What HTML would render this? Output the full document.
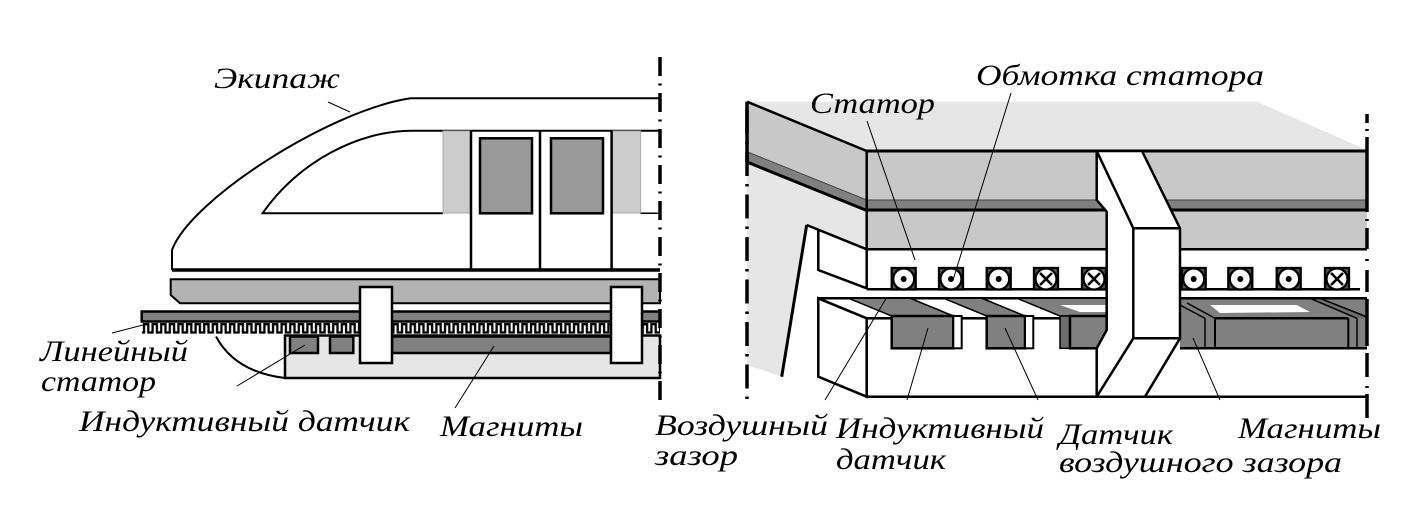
<!DOCTYPE html>
<html><head><meta charset="utf-8"><style>
html,body{margin:0;padding:0;background:#fff;}
svg{display:block;}
text{font-family:"Liberation Serif",serif;font-style:italic;font-size:30px;fill:#000;}
</style></head><body>
<svg width="1404" height="510" viewBox="0 0 1404 510" xmlns="http://www.w3.org/2000/svg">
<defs>
<pattern id="teeth" patternUnits="userSpaceOnUse" x="142" y="321" width="8.6" height="15">
<path d="M-0.2,11.5 H2 V3.2 H6.3 V11.5 H8.8" fill="none" stroke="#000" stroke-width="2.3"/>
</pattern>
</defs>
<rect width="1404" height="510" fill="#fff"/>

<!-- ================= LEFT: TRAIN ================= -->
<path d="M660,98.3 L410.7,98.3 C330,110 190,200 172,250 L172,270" fill="none" stroke="#000" stroke-width="2"/>
<line x1="172" y1="270" x2="660" y2="270" stroke="#000" stroke-width="3.5"/>
<path d="M660,130.7 L410.7,130.7 C360,131 300,160 262.5,213.3 L443,213.3" fill="none" stroke="#000" stroke-width="2"/>
<rect x="443" y="131" width="28" height="82" fill="#cccccc" stroke="#aaaaaa" stroke-width="1"/>
<rect x="612" y="131" width="28.6" height="82" fill="#cccccc" stroke="#aaaaaa" stroke-width="1"/>
<line x1="640.6" y1="213.3" x2="660" y2="213.3" stroke="#000" stroke-width="1.5"/>
<line x1="471" y1="130.7" x2="471" y2="270" stroke="#000" stroke-width="2.5"/>
<line x1="540" y1="130.7" x2="540" y2="270" stroke="#000" stroke-width="2.5"/>
<line x1="611.6" y1="130.7" x2="611.6" y2="270" stroke="#000" stroke-width="2.5"/>
<rect x="480" y="138.3" width="52" height="75" fill="#999999" stroke="#000" stroke-width="2.5"/>
<rect x="551" y="138.3" width="52" height="75" fill="#999999" stroke="#000" stroke-width="2.5"/>
<path d="M170.7,279.3 L660,279.3 L660,303.3 L180,303.3 L170.7,295 Z" fill="#b3b3b3" stroke="#000" stroke-width="2"/>
<rect x="141.7" y="311.5" width="518.3" height="10" fill="#808080" stroke="#000" stroke-width="2.5"/>
<rect x="142" y="321.5" width="518" height="14" fill="url(#teeth)"/>
<path d="M216,336.5 Q235,372 285,378" fill="none" stroke="#000" stroke-width="2"/>
<rect x="285" y="335.5" width="375" height="42.5" fill="#e6e6e6" stroke="#000" stroke-width="2.5"/>
<rect x="290" y="336.5" width="28" height="16.5" fill="#808080" stroke="#000" stroke-width="2.5"/>
<rect x="330" y="336.5" width="23.3" height="16.5" fill="#808080" stroke="#000" stroke-width="2.5"/>
<rect x="392" y="336.5" width="219" height="16.5" fill="#808080" stroke="#000" stroke-width="2.5"/>
<rect x="360" y="287" width="32" height="76" fill="#fff" stroke="#000" stroke-width="2.5"/>
<rect x="611" y="287" width="31" height="76" fill="#fff" stroke="#000" stroke-width="2.5"/>
<line x1="660" y1="57" x2="660" y2="404" stroke="#000" stroke-width="3.5" stroke-dasharray="19 7.5 2 7.5"/>

<!-- ================= RIGHT: SECTION ================= -->
<polygon points="747,101.7 1257,101.7 1367,150 1367,152 866.7,152 866.7,249.3 806.7,225 781.7,376.7 747,365" fill="#e6e6e6"/>
<polygon points="747,101.7 866.7,151 866.7,200 747,151.7" fill="#c8c8c8"/>
<line x1="747" y1="101.7" x2="866.7" y2="151" stroke="#000" stroke-width="2.5"/>
<polygon points="747,151.7 866.7,200 866.7,210 747,161.7" fill="#808080"/>
<line x1="747" y1="151.7" x2="866.7" y2="200" stroke="#444" stroke-width="1"/>
<line x1="747" y1="162" x2="866.7" y2="210.5" stroke="#000" stroke-width="3"/>
<rect x="866.7" y="151" width="500.3" height="49" fill="#c8c8c8"/>
<rect x="866.7" y="200" width="500.3" height="8.5" fill="#808080"/>
<line x1="866.7" y1="200" x2="1367" y2="200" stroke="#444" stroke-width="1"/>
<line x1="866.7" y1="210" x2="1367" y2="210" stroke="#000" stroke-width="3"/>
<rect x="866.7" y="211.5" width="500.3" height="37.8" fill="#c8c8c8"/>
<line x1="866.7" y1="249.3" x2="1367" y2="249.3" stroke="#000" stroke-width="2.5"/>
<rect x="866.7" y="250.5" width="500.3" height="38.8" fill="#fff"/>
<line x1="866.7" y1="289.3" x2="1360" y2="289.3" stroke="#000" stroke-width="2.5"/>
<line x1="866.7" y1="151" x2="1367" y2="151" stroke="#000" stroke-width="3"/>
<line x1="866.7" y1="151" x2="866.7" y2="289.3" stroke="#000" stroke-width="2.5"/>
<line x1="806.7" y1="225" x2="866.7" y2="249.3" stroke="#000" stroke-width="2.5"/>
<line x1="806.7" y1="225" x2="781.7" y2="376.7" stroke="#000" stroke-width="3"/>
<polyline points="818.3,229.7 818.3,270 866.7,288.3" fill="none" stroke="#000" stroke-width="2.5"/>
<!-- coils -->
<g stroke="#000" stroke-width="2.3">
<rect x="891.7" y="268" width="24" height="21.5" fill="#555"/><circle cx="903.7" cy="279" r="10.5" fill="#fff"/><circle cx="903.7" cy="279" r="3" fill="#000" stroke="none"/>
<rect x="939" y="268" width="24" height="21.5" fill="#555"/><circle cx="951" cy="279" r="10.5" fill="#fff"/><circle cx="951" cy="279" r="3" fill="#000" stroke="none"/>
<rect x="986.7" y="268" width="24" height="21.5" fill="#555"/><circle cx="998.7" cy="279" r="10.5" fill="#fff"/><circle cx="998.7" cy="279" r="3" fill="#000" stroke="none"/>
<rect x="1034" y="268" width="24" height="21.5" fill="#555"/><circle cx="1046" cy="279" r="10.5" fill="#fff"/><path d="M1040,273 L1052,285 M1052,273 L1040,285" fill="none" stroke-width="2.6"/>
<rect x="1082" y="268" width="24" height="21.5" fill="#555"/><circle cx="1094" cy="279" r="10.5" fill="#fff"/><path d="M1088,273 L1100,285 M1100,273 L1088,285" fill="none" stroke-width="2.6"/>
<rect x="1181.7" y="268" width="24" height="21.5" fill="#555"/><circle cx="1193.7" cy="279" r="10.5" fill="#fff"/><circle cx="1193.7" cy="279" r="3" fill="#000" stroke="none"/>
<rect x="1228.3" y="268" width="24" height="21.5" fill="#555"/><circle cx="1240.3" cy="279" r="10.5" fill="#fff"/><circle cx="1240.3" cy="279" r="3" fill="#000" stroke="none"/>
<rect x="1276.7" y="268" width="24" height="21.5" fill="#555"/><circle cx="1288.7" cy="279" r="10.5" fill="#fff"/><circle cx="1288.7" cy="279" r="3" fill="#000" stroke="none"/>
<rect x="1325" y="268" width="24" height="21.5" fill="#555"/><circle cx="1337" cy="279" r="10.5" fill="#fff"/><path d="M1331,273 L1343,285 M1343,273 L1331,285" fill="none" stroke-width="2.6"/>
</g>
<!-- lower carrier left -->
<polygon points="818.3,298.3 866.7,318.3 866.7,396.7 818.3,376.7" fill="#fff" stroke="#000" stroke-width="2.5"/>
<polygon points="818.3,298.3 1106.7,298.3 1106.7,318.3 866.7,318.3" fill="#fff" stroke="#000" stroke-width="2.5"/>
<rect x="866.7" y="318.3" width="240" height="78.4" fill="#fff" stroke="#000" stroke-width="2.5"/>
<polygon points="848.7,298.3 910.3,298.3 953.3,316 891.7,316" fill="#808080" stroke="#000" stroke-width="1.5"/>
<rect x="891.7" y="316" width="61.6" height="32.3" fill="#808080" stroke="#000" stroke-width="2.5"/>
<rect x="953.3" y="316" width="8.4" height="32.3" fill="#fff" stroke="#000" stroke-width="2"/>
<polygon points="943.7,298.3 982,298.3 1025,316 986.7,316" fill="#808080" stroke="#000" stroke-width="1.5"/>
<rect x="986.7" y="316" width="38.3" height="32.3" fill="#808080" stroke="#000" stroke-width="2.5"/>
<rect x="1025" y="316" width="8.3" height="32.3" fill="#fff" stroke="#000" stroke-width="2"/>
<polygon points="1017,298.3 1106.7,298.3 1106.7,316 1060,316" fill="#808080" stroke="#000" stroke-width="1.5"/>
<polygon points="1060,305 1106,305 1106,312 1080,312" fill="#fff"/>
<rect x="1060" y="316" width="10" height="32.3" fill="#6e6e6e" stroke="#000" stroke-width="1.5"/>
<rect x="1070" y="316" width="36.7" height="32.3" fill="#808080" stroke="#000" stroke-width="2.5"/>
<!-- lower right -->
<rect x="1180" y="298.3" width="187" height="98.4" fill="#fff"/>
<rect x="1180" y="298.3" width="187" height="50" fill="#808080"/>
<polygon points="1210,305 1296.7,305 1310,312 1220,313" fill="#fff"/>
<polygon points="1310,298.3 1320,298.3 1367,316 1367,318.3 1357,318.3" fill="#6e6e6e"/>
<g stroke="#000" fill="none">
<line x1="1180" y1="298.3" x2="1367" y2="298.3" stroke-width="2.5"/>
<line x1="1215" y1="318.3" x2="1348.3" y2="318.3" stroke-width="2.5"/>
<line x1="1180" y1="348.3" x2="1367" y2="348.3" stroke-width="2.5"/>
<line x1="1205" y1="318.3" x2="1205" y2="348.3" stroke-width="1.5"/>
<line x1="1215" y1="318.3" x2="1215" y2="348.3" stroke-width="2"/>
<line x1="1348.3" y1="318.3" x2="1348.3" y2="348.3" stroke-width="2"/>
<line x1="1357" y1="318.3" x2="1357" y2="348.3" stroke-width="1.5"/>
<line x1="1180" y1="305" x2="1205" y2="318.3" stroke-width="1.5"/>
<line x1="1187" y1="303" x2="1215" y2="318.3" stroke-width="1.5"/>
<line x1="1310" y1="298.3" x2="1357" y2="318.3" stroke-width="1.5"/>
<line x1="1320" y1="298.3" x2="1367" y2="317" stroke-width="1.5"/>
<line x1="866.7" y1="396.7" x2="1367" y2="396.7" stroke-width="2.5"/>
</g>
<!-- beam -->
<polygon points="1096.7,151 1142,151 1180,228.3 1180,338.3 1145,396.7 1096.7,396.7 1096.7,348.3 1106.7,330 1106.7,211.7 1096.7,200" fill="#fff" stroke="#000" stroke-width="2.5" stroke-linejoin="round"/>
<polyline points="1096.7,151 1133.3,228.3 1180,228.3" fill="none" stroke="#000" stroke-width="2.5"/>
<polyline points="1133.3,228.3 1133.3,338.3 1180,338.3" fill="none" stroke="#000" stroke-width="2.5"/>
<line x1="1133.3" y1="338.3" x2="1096.7" y2="396.7" stroke="#000" stroke-width="2.5"/>
<!-- dash lines right panel -->
<line x1="747" y1="101.7" x2="747" y2="162" stroke="#000" stroke-width="3.5"/>
<line x1="747" y1="101.7" x2="747" y2="399" stroke="#000" stroke-width="3.5" stroke-dasharray="24 8 2.5 8" stroke-dashoffset="34.7"/>
<g stroke="#000" stroke-width="3.5">
<line x1="1367" y1="114" x2="1367" y2="123"/>
<line x1="1367" y1="129" x2="1367" y2="131"/>
<line x1="1367" y1="137" x2="1367" y2="212"/>
<line x1="1367" y1="219" x2="1367" y2="221"/>
<line x1="1367" y1="228" x2="1367" y2="249"/>
<line x1="1367" y1="259" x2="1367" y2="261"/>
<line x1="1367" y1="270" x2="1367" y2="292"/>
<line x1="1367" y1="299" x2="1367" y2="346"/>
<line x1="1367" y1="353" x2="1367" y2="377"/>
<line x1="1367" y1="386" x2="1367" y2="388"/>
<line x1="1367" y1="394" x2="1367" y2="418"/>
</g>

<!-- ================= LEADERS ================= -->
<g stroke="#000" stroke-width="1">
<line x1="328" y1="102" x2="350" y2="112"/>
<line x1="112" y1="333" x2="143" y2="325"/>
<line x1="237" y1="386" x2="305" y2="345"/>
<line x1="455" y1="408" x2="494" y2="346"/>
<line x1="867" y1="121" x2="915" y2="260"/>
<line x1="1011" y1="93" x2="953" y2="280"/>
<line x1="825" y1="400" x2="887" y2="297"/>
<line x1="907" y1="400" x2="928" y2="328"/>
<line x1="1038" y1="400" x2="1005" y2="328"/>
<line x1="1220" y1="400" x2="1193" y2="338"/>
</g>

<!-- ================= LABELS ================= -->
<g font-family="Liberation Serif, serif" font-style="italic" font-size="30">
<text x="214" y="88" textLength="126" lengthAdjust="spacingAndGlyphs">Экипаж</text>
<text x="40" y="361" textLength="148" lengthAdjust="spacingAndGlyphs">Линейный</text>
<text x="41" y="391" textLength="115" lengthAdjust="spacingAndGlyphs">статор</text>
<text x="79" y="431" textLength="331" lengthAdjust="spacingAndGlyphs">Индуктивный датчик</text>
<text x="440" y="436" textLength="143" lengthAdjust="spacingAndGlyphs">Магниты</text>
<text x="810" y="113" textLength="125" lengthAdjust="spacingAndGlyphs">Статор</text>
<text x="976" y="85" textLength="288" lengthAdjust="spacingAndGlyphs">Обмотка статора</text>
<text x="655" y="435" textLength="173" lengthAdjust="spacingAndGlyphs">Воздушный</text>
<text x="655" y="465" textLength="83" lengthAdjust="spacingAndGlyphs">зазор</text>
<text x="836" y="438" textLength="208" lengthAdjust="spacingAndGlyphs">Индуктивный</text>
<text x="836" y="469" textLength="110" lengthAdjust="spacingAndGlyphs">датчик</text>
<text x="1059" y="444" textLength="114" lengthAdjust="spacingAndGlyphs">Датчик</text>
<text x="1059" y="472" textLength="283" lengthAdjust="spacingAndGlyphs">воздушного зазора</text>
<text x="1238" y="438" textLength="143" lengthAdjust="spacingAndGlyphs">Магниты</text>
</g>
</svg>
</body></html>
